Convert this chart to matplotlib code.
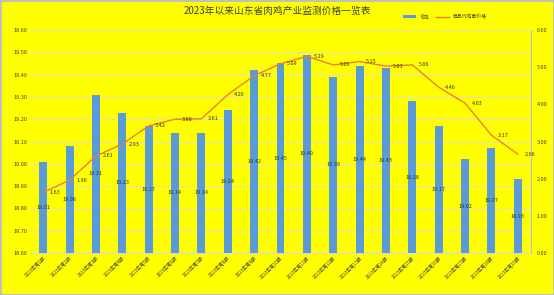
import numpy as np
import matplotlib
matplotlib.use('Agg')
import matplotlib.pyplot as plt

plt.rcParams['font.family'] = ['Noto Sans CJK SC', 'DejaVu Sans']

title = '2023年以来山东省肉鸡产业监测价格一览表'
periods = ['2023年第%d期' % i for i in range(1, 20)]
bar_name = '毛鸡'
line_name = '商品代鸡苗价格'
bar_vals = [19.01, 19.08, 19.31, 19.23, 19.17, 19.14, 19.14, 19.24, 19.42, 19.45,
            19.49, 19.39, 19.44, 19.43, 19.28, 19.17, 19.02, 19.07, 18.93]
line_vals = [1.63, 1.96, 2.61, 2.93, 3.42, 3.60, 3.61, 4.26, 4.77, 5.09,
             5.29, 5.06, 5.15, 5.03, 5.06, 4.46, 4.03, 3.17, 2.66]

yellow = '#FFFF00'
fig = plt.figure(figsize=(5.54, 2.95), dpi=100, facecolor=yellow)
fig.patch.set_edgecolor('#BFBFBF')
fig.patch.set_linewidth(1.0)
ax = fig.add_axes([30 / 554, 1 - 253 / 295, 501 / 554, 223 / 295])
ax.set_facecolor(yellow)

x = np.arange(len(periods))
ax.bar(x, np.array(bar_vals) - 18.6, bottom=18.6, width=0.3,
       color='#5B9BD5', label=bar_name, zorder=3)
ax.set_xlim(-0.5, len(periods) - 0.5)
ax.set_ylim(18.6, 19.6)
ax.set_yticks(np.arange(18.6, 19.61, 0.1))
ax.set_yticklabels(['%.2f' % v for v in np.arange(18.6, 19.61, 0.1)], fontsize=4, color='#404040')
ax.grid(axis='y', color='#E0E0C0', linewidth=0.7, zorder=0)
ax.set_xticks(x)
ax.set_xticklabels(periods, rotation=45, ha='right', rotation_mode='anchor', fontsize=3.3, color='#404040')
ax.tick_params(length=0, pad=2)
for s in ['top', 'left', 'right']:
    ax.spines[s].set_visible(False)
ax.spines['bottom'].set_color('#D9D9D9')

for xi, v in zip(x, bar_vals):
    ax.text(xi, (v + 18.6) / 2, '%.2f' % v, ha='center', va='center', fontsize=4, color='#333333', zorder=5)

ax2 = ax.twinx()
ax2.plot(x, line_vals, color='#ED7D31', linewidth=1.0, label=line_name, zorder=4)
ax2.set_ylim(0, 6)
ax2.set_yticks(np.arange(0, 6.1, 1))
ax2.set_yticklabels(['%.2f' % v for v in np.arange(0, 6.1, 1)], fontsize=4, color='#404040')
ax2.tick_params(length=0, pad=4)
for s in ['top', 'left', 'bottom']:
    ax2.spines[s].set_visible(False)
ax2.spines['right'].set_color('#BFBFBF')
for xi, v in zip(x, line_vals):
    ax2.text(xi + 0.25, v, '%.2f' % v, ha='left', va='center', fontsize=4, color='#333333', zorder=5)

fig.text(0.5, 1 - 11 / 295, title, ha='center', va='center', fontsize=7, fontweight='medium', color='#404040')
h1, l1 = ax.get_legend_handles_labels()
h2, l2 = ax2.get_legend_handles_labels()
fig.legend(h1 + h2, l1 + l2, loc='center', bbox_to_anchor=(445 / 554, 1 - 17 / 295), ncol=2,
           fontsize=3.5, frameon=False, handlelength=2.5, handleheight=0.5, columnspacing=1.5,
           labelcolor='#404040')

fig.savefig('out.png', dpi=100, facecolor=yellow, edgecolor=fig.patch.get_edgecolor())
